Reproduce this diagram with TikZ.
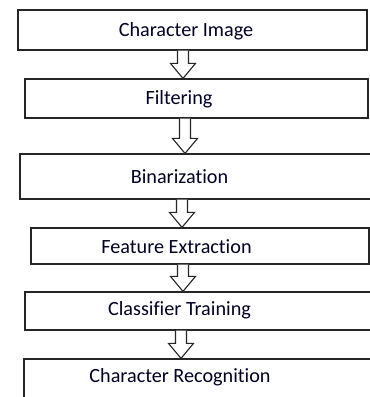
\documentclass[tikz,border=0pt]{standalone}
\usepackage{fontspec}
\setmainfont[Ligatures=NoCommon]{Carlito}
\usetikzlibrary{calc}
\tikzset{
  box/.style={draw=black!85, line width=1.2pt, rectangle, inner sep=0pt},
  lbl/.style={font=\fontsize{20.2}{22}\selectfont, text=black!85!blue, inner sep=0pt},
  arr/.style={draw=black!85, line width=1.1pt, fill=white, line join=miter}
}
\newcommand\fatarrow[3]{% from, to, x centre
  \coordinate (hd) at ($(#2.north)+(0,15)$);
  \draw[arr] (#3-5.5,0 |- #1.south) -- (#3-5.5,0 |- hd)
    -- (#3-12.5,0 |- hd) -- (#3,0 |- #2.north)
    -- (#3+12.5,0 |- hd) -- (#3+5.5,0 |- hd)
    -- (#3+5.5,0 |- #1.south);
}
\begin{document}
\begin{tikzpicture}[x=1pt,y=1pt]
\useasboundingbox (0,0) rectangle (370,-397);
\clip (0,0) rectangle (370,-397);
\fill[white] (0,0) rectangle (370,-397);
\node[box, minimum width=349, minimum height=40] (b1) at (192.5,-30) {};
\node[box, minimum width=343, minimum height=39] (b2) at (196.5,-98.5) {};
\node[box, minimum width=365, minimum height=45] (b3) at (202.5,-176.5) {};
\node[box, minimum width=338, minimum height=36] (b4) at (200,-246) {};
\node[box, minimum width=360, minimum height=38] (b5) at (205,-311) {};
\node[box, minimum width=361, minimum height=61] (b6) at (204.5,-389.5) {};
\node[lbl] (t1) at (186,-31) {Character Image};
\node[lbl] (t2) at (179,-99) {Filtering};
\node[lbl] (t3) at (179.5,-177) {Binarization};
\node[lbl] (t4) at (176.5,-247) {Feature Extraction};
\node[lbl] (t5) at (179.5,-310) {Classifier Training};
\node[lbl] (t6) at (180,-377) {Character Recognition};
\fatarrow{b1}{b2}{183}
\fatarrow{b2}{b3}{185}
\fatarrow{b3}{b4}{182}
\fatarrow{b4}{b5}{183}
\fatarrow{b5}{b6}{181}
\end{tikzpicture}
\end{document}
